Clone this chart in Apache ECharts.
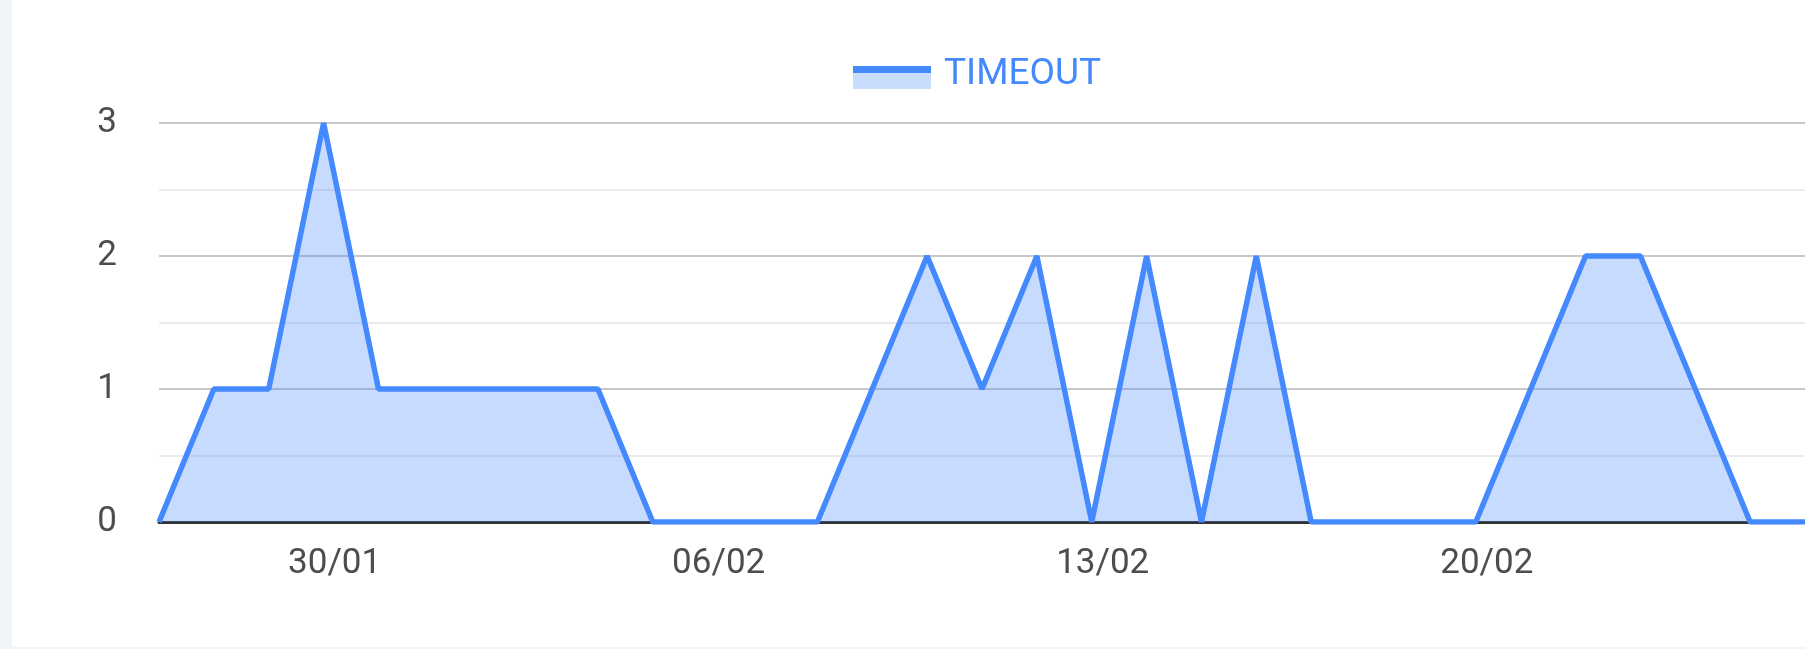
<!DOCTYPE html>
<html>
<head>
<meta charset="utf-8">
<script src="https://cdn.jsdelivr.net/npm/echarts@6/dist/echarts.min.js"></script>
<style>
html,body{margin:0;padding:0;width:1805px;height:649px;background:#f0f5fa;overflow:hidden;}
#chart{position:absolute;left:12px;top:0;width:1793px;height:647px;background:#ffffff;}
</style>
</head>
<body>
<div id="chart"></div>
<script>
const categories = ['27/01','28/01','29/01','30/01','31/01','01/02','02/02','03/02','04/02','05/02','06/02','07/02','08/02','09/02','10/02','11/02','12/02','13/02','14/02','15/02','16/02','17/02','18/02','19/02','20/02','21/02','22/02','23/02','24/02','25/02','26/02'];
const timeoutValues = [0,1,1,3,1,1,1,1,1,0,0,0,0,1,2,1,2,0,2,0,2,0,0,0,0,1,2,2,1,0,0];
const labelIndices = [3,10,17,24];
const yTicks = [0,1,2,3];

const LINE = '#4589ff';
const iconSvg = '<svg xmlns="http://www.w3.org/2000/svg" width="86" height="39" viewBox="0 0 86 39">' +
  '<rect x="0" y="18" width="78" height="16" fill="#c8dcfc"/>' +
  '<rect x="0" y="11" width="78" height="7" fill="#4589ff"/></svg>';
const icon = 'image://data:image/svg+xml;charset=utf-8,' + encodeURIComponent(iconSvg);

const chart = echarts.init(document.getElementById('chart'), null, {renderer:'canvas'});
chart.setOption({
  animation:false,
  legend:{
    left:836, top:50,
    itemWidth:86, itemHeight:39,
    icon: icon,
    data:['TIMEOUT'],
    textStyle:{color:LINE, fontSize:37, fontFamily:'Roboto', fontWeight:400}
  },
  grid:{left:147, right:0, top:123, bottom:125, containLabel:false},
  xAxis:{
    type:'category', data:categories, boundaryGap:false,
    axisLine:{show:true, lineStyle:{color:'#333333', width:3}},
    axisTick:{show:false},
    splitLine:{show:false},
    axisLabel:{
      interval:function(i){return labelIndices.indexOf(i) >= 0;},
      margin:25, fontSize:35, fontFamily:'Roboto', color:'#4d4d4d',
      padding:[0,0,0,22]
    }
  },
  yAxis:{
    type:'value', min:yTicks[0], max:yTicks[yTicks.length-1], interval:1,
    axisLine:{show:false}, axisTick:{show:false},
    axisLabel:{margin:42, fontSize:35, fontFamily:'Roboto', color:'#4d4d4d'},
    splitLine:{show:true, lineStyle:{color:'#c8c8c8', width:2}},
    minorTick:{show:false, splitNumber:2},
    minorSplitLine:{show:true, lineStyle:{color:'#ebebeb', width:2}}
  },
  series:[{
    name:'TIMEOUT', type:'line', data:timeoutValues,
    symbol:'none', showSymbol:false,
    lineStyle:{color:LINE, width:5.5},
    itemStyle:{color:LINE},
    areaStyle:{color:LINE, opacity:0.3}
  }]
});
</script>
</body>
</html>
